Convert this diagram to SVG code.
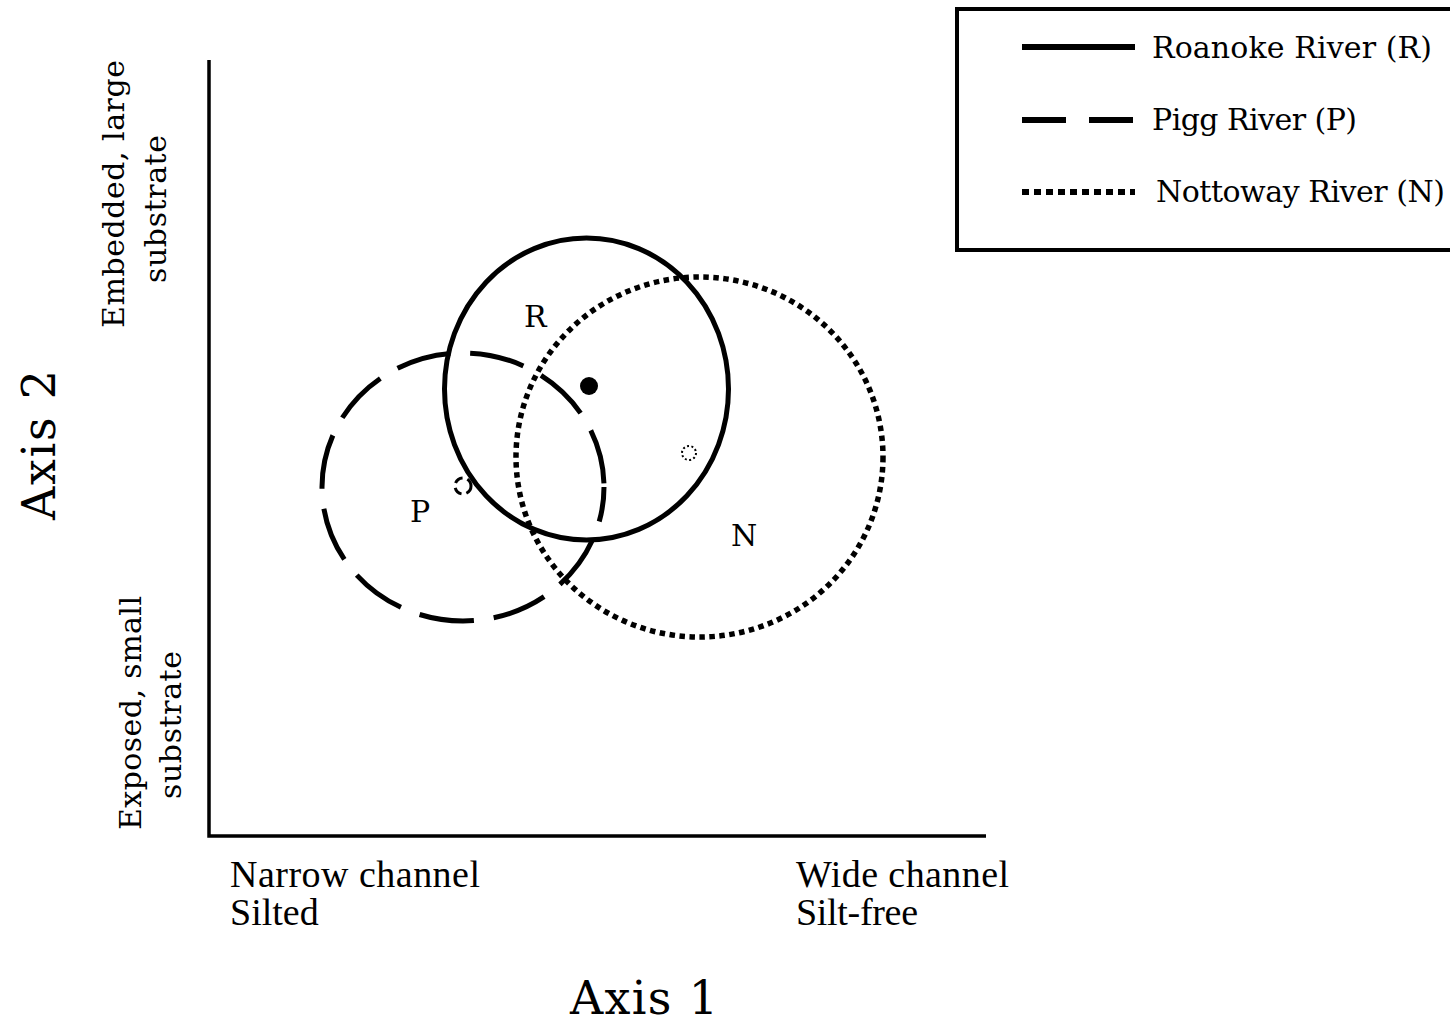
<svg xmlns="http://www.w3.org/2000/svg" width="1450" height="1023" viewBox="0 0 1450 1023">
<style>
.t{font-family:"DejaVu Serif",serif;fill:#000}
.b{font-family:"Liberation Serif","Times New Roman",serif;fill:#000;font-size:38px}
.r{fill:none;stroke:#000;stroke-width:5}
.p{fill:none;stroke:#000;stroke-width:5;stroke-dasharray:55 20}
.n{fill:none;stroke:#000;stroke-width:5.5;stroke-dasharray:5.5 4.5}
</style>
<rect width="1450" height="1023" fill="#fff"/>
<g id="axes">
<path d="M209 60 V836 H986" fill="none" stroke="#000" stroke-width="3.5"/>
</g>
<g id="y-labels">
<text class="t" font-size="30" text-anchor="middle" transform="translate(124,194) rotate(-90)" textLength="268">Embedded, large</text>
<text class="t" font-size="30" text-anchor="middle" transform="translate(166,209) rotate(-90)" textLength="148">substrate</text>
<text class="t" font-size="30" text-anchor="middle" transform="translate(141,713) rotate(-90)" textLength="234">Exposed, small</text>
<text class="t" font-size="30" text-anchor="middle" transform="translate(181,725) rotate(-90)" textLength="148">substrate</text>
<text class="t" font-size="46" text-anchor="middle" transform="translate(55,445) rotate(-90)" textLength="150">Axis 2</text>
</g>
<g id="x-labels">
<text class="b" x="230" y="887" textLength="250">Narrow channel</text>
<text class="b" x="230" y="925">Silted</text>
<text class="b" x="796" y="887" textLength="213">Wide channel</text>
<text class="b" x="796" y="925" textLength="122">Silt-free</text>
<text class="t" font-size="46" x="570" y="1014" textLength="148">Axis 1</text>
</g>
<g id="legend">
<rect x="957" y="9" width="500" height="241" fill="none" stroke="#000" stroke-width="4"/>
<line x1="1022" y1="47" x2="1135" y2="47" stroke="#000" stroke-width="6"/>
<line x1="1022" y1="120" x2="1135" y2="120" stroke="#000" stroke-width="6" stroke-dasharray="44 23"/>
<line x1="1022" y1="192" x2="1135" y2="192" stroke="#000" stroke-width="6" stroke-dasharray="7 5"/>
<text class="t" font-size="30" x="1152" y="58" textLength="280">Roanoke River (R)</text>
<text class="t" font-size="30" x="1152" y="130" textLength="205">Pigg River (P)</text>
<text class="t" font-size="30" x="1156" y="202" textLength="289">Nottoway River (N)</text>
</g>
<g id="roanoke">
<ellipse class="r" cx="586.5" cy="389" rx="142" ry="151"/>
<circle cx="589" cy="386" r="9" fill="#000"/>
<text class="t" font-size="30" x="524" y="327">R</text>
</g>
<g id="pigg">
<ellipse class="p" cx="463" cy="487" rx="141" ry="134" stroke-dashoffset="20"/>
<circle cx="463" cy="486" r="8" fill="none" stroke="#000" stroke-width="3" stroke-dasharray="9 5"/>
<text class="t" font-size="30" x="410" y="522">P</text>
</g>
<g id="nottoway">
<ellipse class="n" cx="699.5" cy="457" rx="183.5" ry="180"/>
<circle cx="689" cy="453" r="7" fill="none" stroke="#000" stroke-width="2" stroke-dasharray="2 2.4"/>
<text class="t" font-size="30" x="731" y="546">N</text>
</g>
</svg>
